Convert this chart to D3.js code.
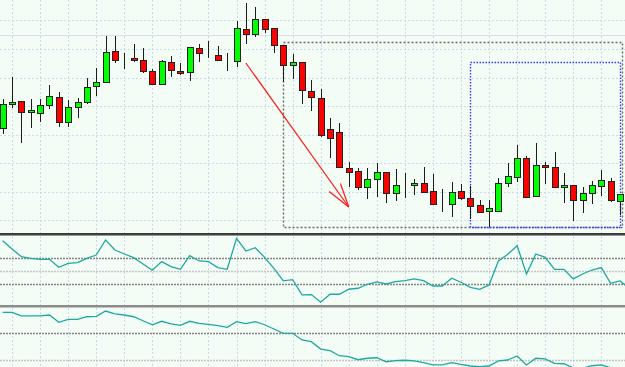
<!DOCTYPE html>
<html>
  <head>
    <style>
      body,
      html {
        width: 100%;
        height: 100%;
        margin: 0;
        padding: 0;
        overflow: hidden;
        background: #f4fcf6;
      }

      svg {
        display: block;
      }
    </style>
  </head>
  <body>
    <script src="https://d3js.org/d3.v7.min.js"></script>
    <script>
      // candle prices, one entry per bar (oldest first)
      const opens = [
        1.2872, 1.2896, 1.2899, 1.2888, 1.2887, 1.2895, 1.2903, 1.2878, 1.2893, 1.2898,
        1.2914, 1.2918, 1.2949, 1.2942, 1.2942, 1.294, 1.2929, 1.2916, 1.2938, 1.2929,
        1.2928, 1.2952, 1.2947, 1.2945, 1.294, 1.2939, 1.2971, 1.2966, 1.2981, 1.2972,
        1.2955, 1.2935, 1.2938, 1.2909, 1.2902, 1.2871, 1.2868, 1.2832, 1.2829, 1.2813,
        1.2821, 1.2828, 1.2807, 1.2816, 1.2815, 1.2817, 1.2809, 1.2796, 1.2796, 1.2809,
        1.2802, 1.2795, 1.2789, 1.2789, 1.2817, 1.2823, 1.2842, 1.2804, 1.2835, 1.2833,
        1.2813, 1.2815, 1.28, 1.2807, 1.2814, 1.2819, 1.2799,
      ];
      const highs = [
        1.2901, 1.2923, 1.2899, 1.2901, 1.2901, 1.2915, 1.2908, 1.29, 1.2902, 1.2922,
        1.2932, 1.2964, 1.2964, 1.2947, 1.2956, 1.2952, 1.2931, 1.294, 1.2944, 1.2937,
        1.2953, 1.2956, 1.2959, 1.2954, 1.2947, 1.2979, 1.2997, 1.2993, 1.2981, 1.2972,
        1.2955, 1.2946, 1.2938, 1.292, 1.2911, 1.2882, 1.2877, 1.2838, 1.2832, 1.2832,
        1.2837, 1.2828, 1.2831, 1.2827, 1.2821, 1.2833, 1.2826, 1.2811, 1.2818, 1.2816,
        1.2814, 1.28, 1.28, 1.2822, 1.2837, 1.2855, 1.2844, 1.2857, 1.2838, 1.2848,
        1.2827, 1.2815, 1.2813, 1.2819, 1.283, 1.2822, 1.2806,
      ];
      const lows = [
        1.2866, 1.2892, 1.2857, 1.2872, 1.2878, 1.2891, 1.2873, 1.2873, 1.2882, 1.2896,
        1.2904, 1.2917, 1.2937, 1.2931, 1.2938, 1.2927, 1.2915, 1.2916, 1.2923, 1.2925,
        1.2919, 1.2938, 1.2942, 1.294, 1.2929, 1.2933, 1.2956, 1.2963, 1.2967, 1.2947,
        1.2918, 1.2921, 1.2896, 1.2889, 1.2863, 1.2842, 1.2832, 1.2813, 1.281, 1.2801,
        1.2803, 1.2797, 1.2799, 1.2802, 1.2805, 1.2808, 1.2795, 1.2788, 1.2783, 1.28,
        1.2781, 1.2787, 1.2773, 1.2789, 1.2813, 1.2818, 1.2803, 1.2804, 1.2816, 1.2813,
        1.2797, 1.2779, 1.2787, 1.2796, 1.2804, 1.2798, 1.2785,
      ];
      const closes = [
        1.2896, 1.2898, 1.2888, 1.289, 1.2895, 1.2904, 1.2878, 1.2893, 1.2898, 1.2913,
        1.2918, 1.2948, 1.294, 1.2942, 1.294, 1.2929, 1.2916, 1.2939, 1.293, 1.2927,
        1.2953, 1.2947, 1.2947, 1.294, 1.294, 1.2972, 1.2966, 1.2981, 1.2971, 1.2955,
        1.2935, 1.2938, 1.291, 1.2903, 1.2865, 1.2862, 1.2833, 1.2828, 1.2813, 1.2821,
        1.2828, 1.2807, 1.2815, 1.2816, 1.2817, 1.2808, 1.2796, 1.2796, 1.2808, 1.2802,
        1.2794, 1.2788, 1.2792, 1.2817, 1.2824, 1.2842, 1.2803, 1.2835, 1.2833, 1.2813,
        1.2815, 1.28, 1.2807, 1.2815, 1.282, 1.28, 1.2806,
      ];

      // oscillator in the first sub window (0..100, levels 70 / 50 / 30)
      const oscFast = [
        95.5, 83, 71.4, 69, 67.5, 67.5, 55.5, 61.5, 62.4, 69, 74, 96.5, 81.5, 75.5, 70,
        60.5, 51, 64, 56.4, 52.5, 73, 65, 64, 55, 52.5, 99, 80, 85, 70.5, 54, 35, 37, 14,
        14.5, 3, 15, 15, 22.5, 24, 30, 33.4, 30.4, 34, 35.3, 38, 35.3, 27.4, 27.4, 39, 33,
        25.4, 22.4, 29, 65, 75, 88, 45.4, 75.5, 70.5, 52.5, 52.5, 38, 45.4, 51.4, 55,
        31.4, 35, 24,
      ];
      const fastLevels = [70, 50, 30];

      // smoothed oscillator in the second sub window (levels 60 / 40)
      const oscSlow = [
        75.7, 75.7, 73, 73, 73, 73.7, 68.2, 70.5, 70.5, 72.4, 72.7, 76.7, 74.5, 73.7,
        72.4, 69.4, 66.4, 69, 67, 66, 69, 67.5, 66.7, 65.7, 64.5, 68.7, 67.2, 68.7, 66.4,
        63.2, 60, 60, 55, 53.7, 48.2, 47, 43.2, 42.5, 40.2, 41.3, 41.7, 38.7, 39.5, 39.8,
        39.3, 38, 36.3, 36.3, 38, 36.8, 35.5, 35, 35.5, 39.3, 40, 43, 36.3, 41.3, 40.8,
        37.5, 37.2, 34.2, 33.8, 35.7, 36.3, 34.2, 33.2, 32.5,
      ];
      const slowLevels = [60, 40];

      // price grid and a horizontal level line
      const gridPrices = [1.298, 1.2951, 1.2922, 1.2894, 1.2865, 1.2837, 1.2808, 1.278];
      const levelPrice = 1.2965;

      const width = 625;
      const height = 367;

      const candles = opens.map(function (o, i) {
        return { i: i, o: o, h: highs[i], l: lows[i], c: closes[i] };
      });

      const x = d3.scaleLinear().domain([0, 66]).range([2.7, 620]);
      const y = d3.scaleLinear().domain([1.2768, 1.3]).range([232, 0]);
      const y1 = d3.scaleLinear().domain([0, 100]).range([304.2, 237.7]);
      const y2 = d3.scaleLinear().domain([40, 60]).range([360, 333.3]);

      const svg = d3
        .select("body")
        .append("svg")
        .attr("width", width)
        .attr("height", height);

      svg
        .append("rect")
        .attr("width", width)
        .attr("height", height)
        .attr("fill", "#f4fcf6");

      const defs = svg.append("defs");
      function clip(id, y0, y1_) {
        defs
          .append("clipPath")
          .attr("id", id)
          .append("rect")
          .attr("x", 0)
          .attr("y", y0)
          .attr("width", width)
          .attr("height", y1_ - y0);
      }
      clip("cMain", 0, 232);
      clip("cOsc1", 235, 305);
      clip("cOsc2", 307.5, 367);

      const crisp = (v) => Math.round(v) + 0.5;
      const gridColor = "#cdd8ee";

      // vertical grid every 3 bars, through all panels
      const vIdx = d3.range(1, 68, 3);
      svg
        .append("g")
        .selectAll("line")
        .data(vIdx)
        .enter()
        .append("line")
        .attr("x1", (d) => crisp(x(d)))
        .attr("x2", (d) => crisp(x(d)))
        .attr("y1", 0)
        .attr("y2", height)
        .attr("stroke", gridColor)
        .attr("stroke-dasharray", "2,2");

      // horizontal price grid
      svg
        .append("g")
        .selectAll("line")
        .data(gridPrices)
        .enter()
        .append("line")
        .attr("x1", 0)
        .attr("x2", width)
        .attr("y1", (d) => crisp(y(d)))
        .attr("y2", (d) => crisp(y(d)))
        .attr("stroke", gridColor)
        .attr("stroke-dasharray", "2,2");

      svg
        .append("line")
        .attr("x1", 0)
        .attr("x2", width)
        .attr("y1", crisp(y(levelPrice)))
        .attr("y2", crisp(y(levelPrice)))
        .attr("stroke", "#dcdcf4");

      // dotted boxes (drawn under the candles)
      const boxes = [
        { i0: 30, i1: 66.2, top: 1.2958, bottom: 1.2773, color: "#6a6a6a", dash: "2,2" },
        { i0: 50, i1: 66, top: 1.2938, bottom: 1.2773, color: "#3a3aff", dash: "1.5,1.5" },
      ];
      svg
        .append("g")
        .selectAll("rect")
        .data(boxes)
        .enter()
        .append("rect")
        .attr("x", (d) => crisp(x(d.i0)))
        .attr("y", (d) => crisp(y(d.top)))
        .attr("width", (d) => Math.round(x(d.i1) - x(d.i0)))
        .attr("height", (d) => Math.round(y(d.bottom) - y(d.top)))
        .attr("fill", "none")
        .attr("stroke", (d) => d.color)
        .attr("stroke-width", 1.4)
        .attr("stroke-dasharray", (d) => d.dash);

      // candles
      const gC = svg.append("g").attr("clip-path", "url(#cMain)");
      gC.selectAll("line.wick")
        .data(candles)
        .enter()
        .append("line")
        .attr("class", "wick")
        .attr("x1", (d) => crisp(x(d.i)))
        .attr("x2", (d) => crisp(x(d.i)))
        .attr("y1", (d) => Math.round(y(d.h)))
        .attr("y2", (d) => Math.round(y(d.l)))
        .attr("stroke", "#1c1c1c");

      gC.selectAll("rect.body")
        .data(candles)
        .enter()
        .append("rect")
        .attr("class", "body")
        .attr("x", (d) => crisp(x(d.i)) - 3)
        .attr("width", 6)
        .attr("y", (d) => Math.round(y(Math.max(d.o, d.c))) + 0.5)
        .attr("height", (d) =>
          Math.max(0, Math.round(y(Math.min(d.o, d.c))) - Math.round(y(Math.max(d.o, d.c))))
        )
        .attr("fill", (d) => (d.c > d.o ? "#00ff00" : d.c < d.o ? "#ff0000" : "none"))
        .attr("stroke", "#222")
        .attr("stroke-width", 1);

      // red arrow
      const arrowFrom = { i: 26, p: 1.2937 };
      const arrowTo = { i: 37, p: 1.2793 };
      const ax0 = x(arrowFrom.i),
        ay0 = y(arrowFrom.p),
        ax1 = x(arrowTo.i),
        ay1 = y(arrowTo.p);
      const back = Math.atan2(ay0 - ay1, ax0 - ax1);
      const gA = svg
        .append("g")
        .attr("stroke", "#ff1a1a")
        .attr("stroke-width", 1.2)
        .attr("fill", "none");
      gA.append("line").attr("x1", ax0).attr("y1", ay0).attr("x2", ax1).attr("y2", ay1);
      [-0.28, 0.28].forEach(function (a) {
        gA.append("line")
          .attr("x1", ax1)
          .attr("y1", ay1)
          .attr("x2", ax1 + Math.cos(back + a) * 25)
          .attr("y2", ay1 + Math.sin(back + a) * 25);
      });

      // panel separators
      svg
        .append("rect")
        .attr("x", 0)
        .attr("y", 233)
        .attr("width", width)
        .attr("height", 2.5)
        .attr("fill", "#3d3d3d");
      svg
        .append("rect")
        .attr("x", 0)
        .attr("y", 305)
        .attr("width", width)
        .attr("height", 2.5)
        .attr("fill", "#8c8c8c");

      // level lines of the oscillators
      svg
        .append("g")
        .selectAll("line")
        .data(fastLevels)
        .enter()
        .append("line")
        .attr("x1", 0)
        .attr("x2", width)
        .attr("y1", (d) => crisp(y1(d)))
        .attr("y2", (d) => crisp(y1(d)))
        .attr("stroke", (d) => (d === 50 ? "#c4c4c4" : "#858585"))
        .attr("stroke-width", 1.3)
        .attr("stroke-dasharray", "2,1");

      svg
        .append("g")
        .selectAll("line")
        .data(slowLevels)
        .enter()
        .append("line")
        .attr("x1", 0)
        .attr("x2", width)
        .attr("y1", (d) => crisp(y2(d)))
        .attr("y2", (d) => crisp(y2(d)))
        .attr("stroke", (d) => (d === 60 ? "#858585" : "#c4c4c4"))
        .attr("stroke-width", 1.3)
        .attr("stroke-dasharray", "2,1");

      // oscillator lines
      const lineFast = d3
        .line()
        .x((d, i) => x(i))
        .y((d) => y1(d));
      const lineSlow = d3
        .line()
        .x((d, i) => x(i))
        .y((d) => y2(d));

      svg
        .append("path")
        .attr("clip-path", "url(#cOsc1)")
        .attr("d", lineFast(oscFast))
        .attr("fill", "none")
        .attr("stroke", "#1fa89f")
        .attr("stroke-width", 1.3);

      svg
        .append("path")
        .attr("clip-path", "url(#cOsc2)")
        .attr("d", lineSlow(oscSlow))
        .attr("fill", "none")
        .attr("stroke", "#1fa89f")
        .attr("stroke-width", 1.3);
    </script>
  </body>
</html>
